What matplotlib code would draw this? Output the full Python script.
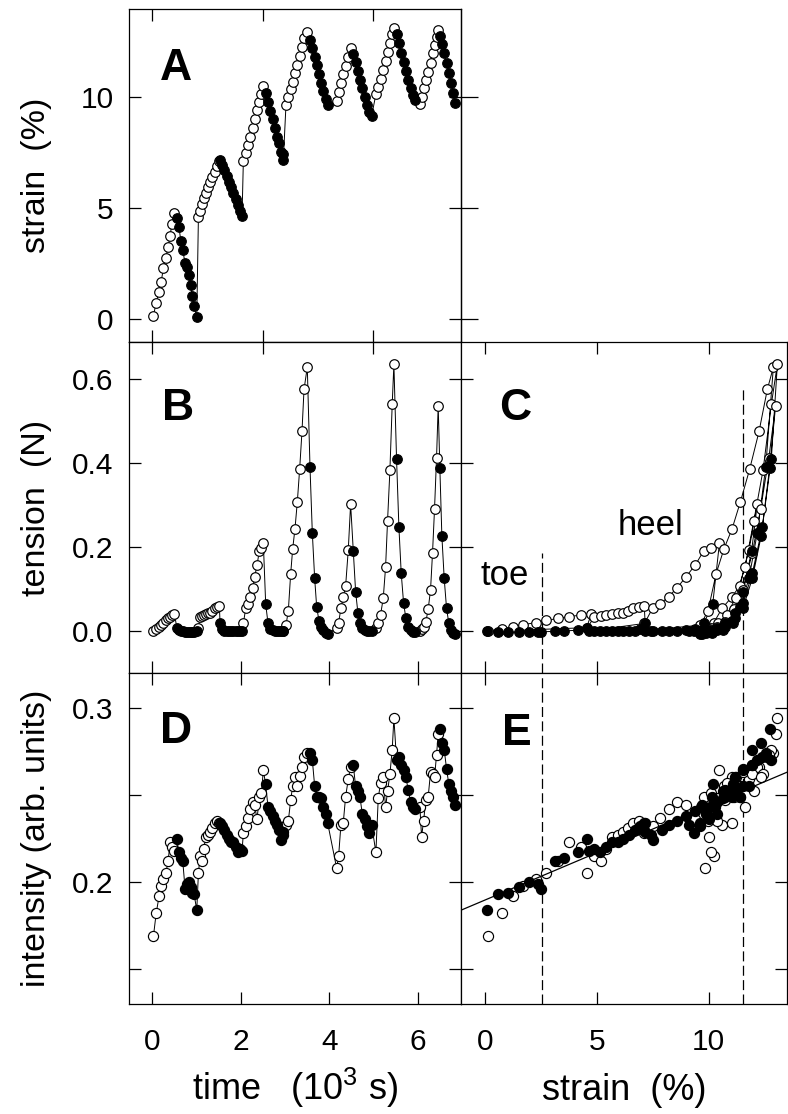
import numpy as np
import matplotlib
matplotlib.use("Agg")
import matplotlib.pyplot as plt

plt.rcParams['font.family'] = ['Liberation Sans', 'DejaVu Sans']
plt.rcParams['mathtext.fontset'] = 'custom'
plt.rcParams['mathtext.rm'] = 'Liberation Sans'

# ---------------- data ----------------
# number of samples in each alternating segment: loading (open), unloading (filled), ...
seg_len = [10, 11, 11, 11, 10, 10, 10, 9, 7, 9, 9, 9, 10, 8]

time_ks = [  # time in 10^3 s
    0.023, 0.084, 0.151, 0.197, 0.249, 0.302, 0.355, 0.400, 0.438, 0.498,
    0.551, 0.600, 0.641, 0.686, 0.739, 0.784, 0.829, 0.867, 0.897, 0.942, 1.003,
    1.040, 1.078, 1.115, 1.161, 1.206, 1.251, 1.304, 1.357, 1.409, 1.462, 1.514,
    1.530, 1.583, 1.628, 1.680, 1.733, 1.778, 1.831, 1.884, 1.936, 1.982, 2.027,
    2.057, 2.110, 2.163, 2.216, 2.268, 2.313, 2.366, 2.419, 2.464, 2.509,
    2.562, 2.615, 2.668, 2.720, 2.773, 2.818, 2.856, 2.901, 2.946, 2.961,
    3.021, 3.074, 3.127, 3.172, 3.225, 3.278, 3.330, 3.383, 3.429, 3.503,
    3.564, 3.617, 3.670, 3.715, 3.767, 3.813, 3.865, 3.918, 3.963,
    4.167, 4.212, 4.264, 4.317, 4.370, 4.430, 4.483,
    4.543, 4.596, 4.649, 4.694, 4.747, 4.800, 4.852, 4.905, 4.958,
    5.055, 5.108, 5.160, 5.221, 5.274, 5.319, 5.372, 5.424, 5.462,
    5.522, 5.575, 5.628, 5.681, 5.733, 5.786, 5.839, 5.899, 5.937,
    6.050, 6.088, 6.133, 6.185, 6.238, 6.291, 6.336, 6.381, 6.427, 6.464,
    6.502, 6.547, 6.600, 6.653, 6.705, 6.758, 6.803, 6.841,
]

strain_pct = [
    0.15, 0.75, 1.24, 1.69, 2.29, 2.74, 3.26, 3.74, 4.28, 4.76,
    4.54, 4.16, 3.53, 3.11, 2.51, 2.36, 1.99, 1.54, 1.05, 0.60, 0.09,
    4.58, 4.88, 5.18, 5.43, 5.66, 5.93, 6.15, 6.41, 6.63, 6.90, 7.12,
    7.16, 6.93, 6.71, 6.44, 6.18, 5.93, 5.66, 5.39, 5.14, 4.88, 4.64,
    7.13, 7.49, 7.83, 8.21, 8.58, 8.98, 9.40, 9.78, 10.12, 10.48,
    10.18, 9.78, 9.37, 8.98, 8.58, 8.21, 7.91, 7.53, 7.43, 7.16,
    9.63, 9.97, 10.33, 10.68, 11.05, 11.42, 11.83, 12.25, 12.62, 12.89,
    12.55, 12.17, 11.80, 11.42, 11.03, 10.63, 10.27, 9.90, 9.63,
    9.82, 10.23, 10.60, 11.02, 11.39, 11.80, 12.17,
    11.92, 11.54, 11.17, 10.75, 10.37, 10.00, 9.63, 9.33, 9.13,
    10.11, 10.42, 10.80, 11.20, 11.62, 12.02, 12.43, 12.80, 13.07,
    12.80, 12.40, 11.95, 11.54, 11.17, 10.75, 10.37, 10.08, 9.85,
    9.67, 10.00, 10.37, 10.75, 11.12, 11.53, 11.95, 12.32, 12.69, 12.99,
    12.72, 12.35, 11.95, 11.53, 11.08, 10.63, 10.15, 9.70,
]

tension_N = [
    0.000, 0.005, 0.010, 0.015, 0.020, 0.025, 0.030, 0.034, 0.038, 0.041,
    0.008, 0.002, 0.000, -0.001, -0.002, -0.002, -0.002, -0.002, -0.002, -0.002, -0.001,
    0.008, 0.033, 0.036, 0.038, 0.040, 0.042, 0.044, 0.048, 0.054, 0.058, 0.060,
    0.018, 0.004, 0.001, 0.000, 0.000, 0.000, 0.000, 0.000, 0.000, 0.000, 0.000,
    0.018, 0.054, 0.064, 0.082, 0.102, 0.129, 0.157, 0.191, 0.197, 0.209,
    0.064, 0.018, 0.004, 0.002, 0.001, 0.000, 0.000, 0.000, 0.000, 0.001,
    0.014, 0.048, 0.136, 0.195, 0.244, 0.308, 0.385, 0.475, 0.575, 0.628,
    0.391, 0.233, 0.125, 0.058, 0.024, 0.010, 0.002, -0.004, -0.006,
    0.008, 0.020, 0.054, 0.080, 0.107, 0.193, 0.302,
    0.191, 0.094, 0.042, 0.018, 0.006, 0.002, 0.000, -0.001, 0.000,
    0.008, 0.018, 0.038, 0.078, 0.152, 0.263, 0.383, 0.540, 0.635,
    0.410, 0.248, 0.137, 0.067, 0.030, 0.010, 0.002, -0.002, -0.002,
    0.000, 0.004, 0.010, 0.022, 0.052, 0.098, 0.186, 0.290, 0.413, 0.536,
    0.387, 0.227, 0.125, 0.054, 0.018, 0.002, -0.005, -0.006,
]

intensity_au = [
    0.169, 0.182, 0.192, 0.198, 0.202, 0.205, 0.212, 0.223, 0.220, 0.218,
    0.225, 0.217, 0.214, 0.212, 0.196, 0.199, 0.200, 0.197, 0.194, 0.193, 0.184,
    0.205, 0.215, 0.212, 0.219, 0.226, 0.227, 0.229, 0.231, 0.234, 0.235, 0.234,
    0.234, 0.232, 0.230, 0.227, 0.225, 0.223, 0.223, 0.220, 0.217, 0.219, 0.218,
    0.228, 0.232, 0.237, 0.242, 0.246, 0.244, 0.236, 0.249, 0.251, 0.264,
    0.256, 0.243, 0.241, 0.238, 0.235, 0.233, 0.230, 0.224, 0.227, 0.229,
    0.233, 0.235, 0.247, 0.255, 0.260, 0.255, 0.261, 0.266, 0.272, 0.274,
    0.274, 0.270, 0.255, 0.249, 0.249, 0.248, 0.243, 0.239, 0.234,
    0.208, 0.215, 0.233, 0.234, 0.249, 0.259, 0.266,
    0.267, 0.255, 0.252, 0.249, 0.239, 0.236, 0.232, 0.228, 0.233,
    0.217, 0.248, 0.257, 0.260, 0.243, 0.252, 0.262, 0.276, 0.294,
    0.270, 0.272, 0.267, 0.264, 0.260, 0.253, 0.246, 0.243, 0.242,
    0.243, 0.226, 0.235, 0.247, 0.249, 0.263, 0.262, 0.260, 0.273, 0.285,
    0.288, 0.280, 0.276, 0.265, 0.256, 0.252, 0.249, 0.244,
]

toe_heel_limits = [2.56, 11.55]        # strain (%) of the dashed lines
c_dash_tops = [0.186, 0.58]            # tension reached by the dashed lines in C
fit_intercept = 0.1897                 # linear fit in E
fit_slope = 0.00543

# ---------------- figure ----------------
t = np.array(time_ks)
eps = np.array(strain_pct)
ten = np.array(tension_N)
inten = np.array(intensity_au)
loading = np.concatenate([np.full(n, i % 2 == 0) for i, n in enumerate(seg_len)])

W, H = 788, 1114
fig = plt.figure(figsize=(W / 100, H / 100), dpi=100)


def rect(x0, y0, x1, y1):
    return [x0 / W, 1 - y1 / H, (x1 - x0) / W, (y1 - y0) / H]


axA = fig.add_axes(rect(129, 9, 461, 342))
axB = fig.add_axes(rect(129, 342, 461, 673))
axD = fig.add_axes(rect(129, 673, 461, 1004))
axC = fig.add_axes(rect(461, 342, 787, 673))
axE = fig.add_axes(rect(461, 673, 787, 1004))

MEW = 0.85
LW = 0.7
TICK_FS = 21.5
YLAB_FS = 24.5
XLAB_FS = 26
TL = 8.5
DASH = (0, (8, 3.5))
MS_TOP = 6.9
MS_LOW = 7.3


def markers(ax, x, y, ms):
    ax.plot(x[loading], y[loading], 'o', ms=ms, mfc='white', mec='black', mew=MEW, zorder=3)
    ax.plot(x[~loading], y[~loading], 'o', ms=ms, mfc='black', mec='black', mew=MEW, zorder=3)


def series(ax, x, y, ms):
    ax.plot(x, y, '-', color='black', lw=LW, zorder=2)
    markers(ax, x, y, ms)


for ax in (axA, axB, axD, axC, axE):
    for s in ax.spines.values():
        s.set_linewidth(0.9)
    ax.tick_params(which='both', direction='in', length=TL, width=0.9,
                   top=True, right=True, labelsize=TICK_FS)
    ax.tick_params(axis='y', pad=11)
    ax.tick_params(axis='x', pad=17)

# Panel A
series(axA, t, eps, MS_TOP)
axA.set_xlim(-0.53, 6.98)
axA.set_ylim(-1.02, 13.94)
axA.set_xticks([0, 2.5, 5])
axA.set_yticks([0, 5, 10])
axA.tick_params(labelbottom=False)
secA = axA.secondary_yaxis('right')
secA.set_yticks([0, 5, 10])
secA.tick_params(direction='out', length=TL + 4, width=0.9, labelright=False)
secA.spines['right'].set_linewidth(0.9)
axA.set_ylabel('strain  (%)', fontsize=YLAB_FS)

# Panel B
series(axB, t, ten, MS_TOP)
axB.set_xlim(-0.53, 6.98)
axB.set_ylim(-0.1, 0.688)
axB.set_xticks([0, 2, 4, 6])
axB.set_yticks([0.0, 0.2, 0.4, 0.6])
axB.set_yticklabels(['0.0', '0.2', '0.4', '0.6'])
axB.tick_params(labelbottom=False, top=False)
secB = axB.secondary_xaxis('top')
secB.set_xticks([0, 2.5, 5])
secB.tick_params(direction='in', length=TL, width=0.9, labeltop=False)
axB.set_ylabel('tension  (N)', fontsize=YLAB_FS)

# Panel D
series(axD, t, inten, MS_LOW)
axD.set_xlim(-0.53, 6.98)
axD.set_ylim(0.1301, 0.3199)
axD.set_xticks([0, 2, 4, 6])
axD.set_yticks([0.15, 0.2, 0.25, 0.3])
axD.set_yticklabels(['', '0.2', '', '0.3'])
axD.set_ylabel('intensity (arb. units)', fontsize=YLAB_FS)
axD.set_xlabel('time   (10$^{3}$ s)', fontsize=XLAB_FS)

# Panel C
axC.plot(eps, ten, '-', color='black', lw=LW, zorder=2)
markers(axC, eps, ten, MS_TOP)
axC.set_xlim(-1.07, 13.5)
axC.set_ylim(-0.1, 0.688)
axC.set_xticks([0, 5, 10])
axC.set_yticks([0.0, 0.2, 0.4, 0.6])
axC.tick_params(labelbottom=False, labelleft=False)
for xv, ytop in zip(toe_heel_limits, c_dash_tops):
    axC.vlines(xv, -0.1, ytop, colors='black', linestyles=[DASH], lw=0.9, zorder=1)
axC.text(-0.22, 0.11, 'toe', fontsize=25, va='baseline', ha='left')
axC.text(5.94, 0.229, 'heel', fontsize=25, va='baseline', ha='left')

# Panel E
markers(axE, eps, inten, MS_LOW)
xf = np.array([-1.07, 13.5])
axE.plot(xf, fit_intercept + fit_slope * xf, '-', color='black', lw=0.9, zorder=4)
axE.set_xlim(-1.07, 13.5)
axE.set_ylim(0.1301, 0.3199)
axE.set_xticks([0, 5, 10])
axE.set_yticks([0.15, 0.2, 0.25, 0.3])
axE.tick_params(labelleft=False)
for xv in toe_heel_limits:
    axE.axvline(xv, color='black', linestyle=DASH, lw=0.9, zorder=1)
axE.set_xlabel('strain  (%)', fontsize=XLAB_FS)

# label positions
for ax in (axA, axB, axD):
    ax.yaxis.set_label_coords(-0.232, 0.5)
for ax in (axD, axE):
    ax.xaxis.set_label_coords(0.5, -0.29)
    ax.xaxis.label.set_verticalalignment('baseline')

# panel letters
letters = [(axA, 'A', 0.093, 0.787), (axB, 'B', 0.099, 0.764), (axC, 'C', 0.118, 0.764),
           (axD, 'D', 0.093, 0.789), (axE, 'E', 0.125, 0.782)]
for ax, s, x, y in letters:
    ax.text(x, y, s, transform=ax.transAxes, fontsize=32, fontweight='bold',
            va='baseline', ha='left')

fig.savefig('out.png', dpi=100)
